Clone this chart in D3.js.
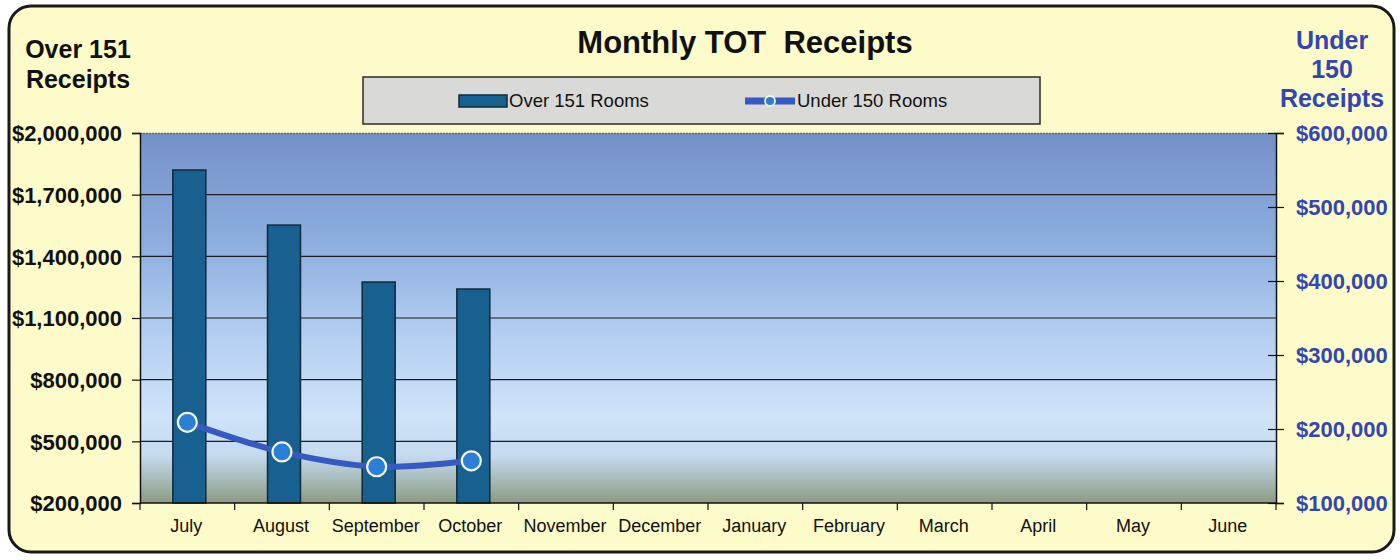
<!DOCTYPE html>
<html>
<head>
<meta charset="utf-8">
<script src="https://cdnjs.cloudflare.com/ajax/libs/d3/7.8.5/d3.min.js"></script>
<style>
  body { margin: 0; background: #fff; }
  text { font-family: Arial, "Liberation Sans", sans-serif; }
</style>
</head>
<body>
<div id="chart"></div>
<script>
var months = ["July", "August", "September", "October", "November", "December",
  "January", "February", "March", "April", "May", "June"]
var overReceipts = [1820000, 1552000, 1275000, 1241000]
var underReceipts = [209000, 169000, 149000, 157000]
var leftTicks = [200000, 500000, 800000, 1100000, 1400000, 1700000, 2000000]
var rightTicks = [100000, 200000, 300000, 400000, 500000, 600000]

var W = 1400, H = 560
var margin = { left: 140, right: 124, top: 133, bottom: 57 }
var pw = W - margin.left - margin.right
var ph = H - margin.top - margin.bottom

var svg = d3.select("#chart").append("svg")
  .attr("width", W).attr("height", H)

var defs = svg.append("defs")
var grad = defs.append("linearGradient").attr("id", "bg")
  .attr("x1", 0).attr("y1", 0).attr("x2", 0).attr("y2", 1)
grad.append("stop").attr("offset", "0%").attr("stop-color", "#7590c8")
grad.append("stop").attr("offset", "30%").attr("stop-color", "#8eaedf")
grad.append("stop").attr("offset", "55%").attr("stop-color", "#b4cff1")
grad.append("stop").attr("offset", "76%").attr("stop-color", "#cfe3f9")
grad.append("stop").attr("offset", "87%").attr("stop-color", "#c6dbef")
grad.append("stop").attr("offset", "100%").attr("stop-color", "#8c9b84")

// frame
svg.append("rect")
  .attr("x", 9).attr("y", 6).attr("width", 1385).attr("height", 546)
  .attr("rx", 22).attr("ry", 22)
  .attr("fill", "#fdfbc9").attr("stroke", "#1a1a1a").attr("stroke-width", 3)

var x = d3.scaleBand().domain(months).range([0, pw]).paddingInner(0).paddingOuter(0)
var yL = d3.scaleLinear().domain([200000, 2000000]).range([ph, 0])
var yR = d3.scaleLinear().domain([100000, 600000]).range([ph, 0])

var g = svg.append("g").attr("transform", "translate(" + margin.left + "," + margin.top + ")")

g.append("rect").attr("x", 0).attr("y", 0).attr("width", pw).attr("height", ph)
  .attr("fill", "url(#bg)")

// grid
g.selectAll(".grid").data(leftTicks.slice(1, -1)).enter().append("line")
  .attr("x1", 0).attr("x2", pw)
  .attr("y1", function(d){ return yL(d) }).attr("y2", function(d){ return yL(d) })
  .attr("stroke", "#1c1c1c").attr("stroke-width", 1.2)
g.append("line").attr("x1", 0).attr("x2", pw).attr("y1", 0.5).attr("y2", 0.5)
  .attr("stroke", "#6a6a6a").attr("stroke-width", 1.5).attr("stroke-dasharray", "2,1")

// bars
var bw = 33
g.selectAll(".bar").data(overReceipts).enter().append("rect")
  .attr("x", function(d, i){ return x(months[i]) + x.bandwidth() / 2 - bw / 2 + 2 })
  .attr("y", function(d){ return yL(d) })
  .attr("width", bw)
  .attr("height", function(d){ return ph - yL(d) })
  .attr("fill", "#17608f").attr("stroke", "#0d2a3d").attr("stroke-width", 1.5)

// axes
var axL = g.append("g").call(d3.axisLeft(yL).tickValues(leftTicks).tickSize(8).tickFormat(""))
axL.select(".domain").attr("stroke", "#111").attr("stroke-width", 1.5)
axL.selectAll(".tick line").attr("stroke", "#111").attr("stroke-width", 1.2)
axL.selectAll(".tick").append("text")
  .attr("x", -18).attr("dy", "0.35em").attr("text-anchor", "end")
  .attr("font-size", 22).attr("font-weight", "bold").attr("fill", "#111")
  .text(function(d){ return "$" + d3.format(",")(d) })

var axR = g.append("g").attr("transform", "translate(" + pw + ",0)")
  .call(d3.axisRight(yR).tickValues(rightTicks).tickSize(8).tickFormat(""))
axR.select(".domain").attr("stroke", "#111").attr("stroke-width", 1.5)
axR.selectAll(".tick line").attr("x1", -8).attr("stroke", "#111").attr("stroke-width", 1.2)
axR.selectAll(".tick").append("text")
  .attr("x", 20).attr("dy", "0.35em").attr("text-anchor", "start")
  .attr("font-size", 22).attr("font-weight", "bold").attr("fill", "#3346b0")
  .text(function(d){ return "$" + d3.format(",")(d) })

var axB = g.append("g").attr("transform", "translate(0," + ph + ")")
axB.append("line").attr("x1", 0).attr("x2", pw).attr("stroke", "#111").attr("stroke-width", 1.5)
axB.selectAll(".tk").data(d3.range(months.length + 1)).enter().append("line")
  .attr("x1", function(i){ return i * x.step() }).attr("x2", function(i){ return i * x.step() })
  .attr("y1", 0).attr("y2", 7).attr("stroke", "#111").attr("stroke-width", 1.2)
axB.selectAll(".lbl").data(months).enter().append("text")
  .attr("x", function(d){ return x(d) + x.bandwidth() / 2 - 1 })
  .attr("y", 29).attr("text-anchor", "middle")
  .attr("font-size", 18).attr("fill", "#111")
  .text(function(d){ return d })

// line
var line = d3.line()
  .x(function(d, i){ return x(months[i]) + x.bandwidth() / 2 })
  .y(function(d){ return yR(d) })
  .curve(d3.curveCatmullRom.alpha(0.5))
g.append("path").datum(underReceipts).attr("d", line)
  .attr("fill", "none").attr("stroke", "#3659c2").attr("stroke-width", 6)
g.selectAll(".dot").data(underReceipts).enter().append("circle")
  .attr("cx", function(d, i){ return x(months[i]) + x.bandwidth() / 2 })
  .attr("cy", function(d){ return yR(d) })
  .attr("r", 9.5)
  .attr("fill", "#2c7fd6").attr("stroke", "#f4f6e0").attr("stroke-width", 2.2)

// titles
svg.append("text").attr("x", 745).attr("y", 53).attr("text-anchor", "middle")
  .attr("font-size", 31).attr("font-weight", "bold").attr("fill", "#111")
  .attr("xml:space", "preserve")
  .text("Monthly TOT  Receipts")

var lt = svg.append("text").attr("text-anchor", "middle")
  .attr("font-size", 25).attr("font-weight", "bold").attr("fill", "#111")
lt.append("tspan").attr("x", 78).attr("y", 58).text("Over 151")
lt.append("tspan").attr("x", 78).attr("y", 88).text("Receipts")

var rt = svg.append("text").attr("text-anchor", "middle")
  .attr("font-size", 25).attr("font-weight", "bold").attr("fill", "#3346b0")
rt.append("tspan").attr("x", 1332).attr("y", 49).text("Under")
rt.append("tspan").attr("x", 1332).attr("y", 78).text("150")
rt.append("tspan").attr("x", 1332).attr("y", 107).text("Receipts")

// legend
var lg = svg.append("g")
lg.append("rect").attr("x", 363).attr("y", 77).attr("width", 677).attr("height", 47)
  .attr("fill", "#d9d9d7").attr("stroke", "#2a2a2a").attr("stroke-width", 1.5)
lg.append("rect").attr("x", 459).attr("y", 95).attr("width", 48).attr("height", 12)
  .attr("fill", "#17608f").attr("stroke", "#0d2a3d").attr("stroke-width", 1.5)
lg.append("text").attr("x", 509).attr("y", 107).attr("font-size", 18.5).attr("fill", "#111")
  .text("Over 151 Rooms")
lg.append("line").attr("x1", 745).attr("x2", 795).attr("y1", 101).attr("y2", 101)
  .attr("stroke", "#3659c2").attr("stroke-width", 7)
lg.append("circle").attr("cx", 770).attr("cy", 101).attr("r", 5)
  .attr("fill", "#2c7fd6").attr("stroke", "#f4f6e0").attr("stroke-width", 1.8)
lg.append("text").attr("x", 797).attr("y", 107).attr("font-size", 18.5).attr("fill", "#111")
  .text("Under 150 Rooms")
</script>
</body>
</html>
